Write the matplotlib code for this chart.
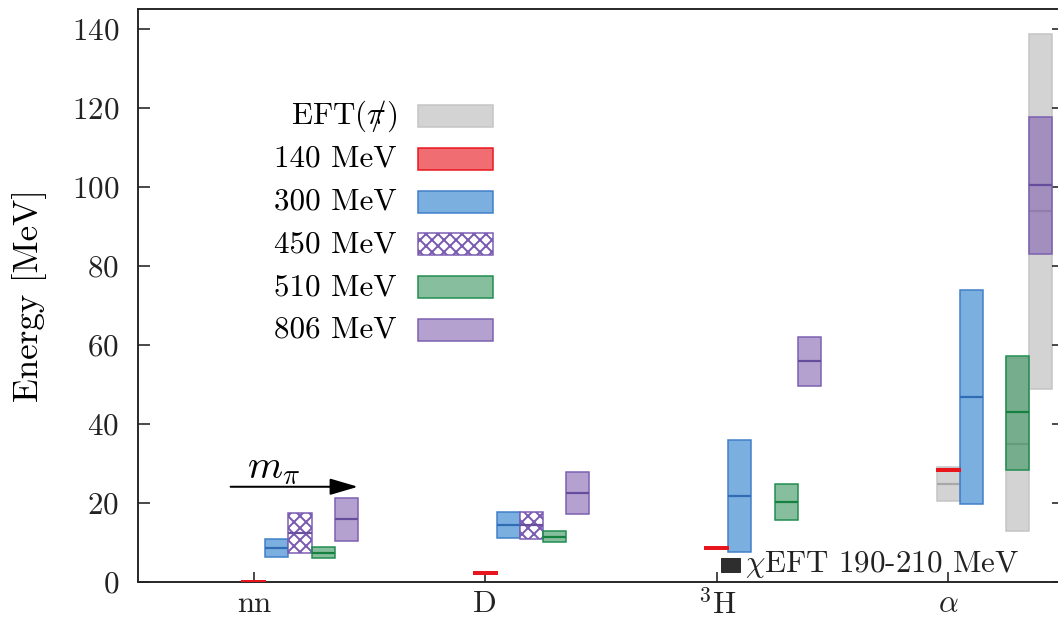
import numpy as np
import matplotlib.pyplot as plt
from matplotlib.patches import Rectangle

# dpi 72: one point = one pixel
plt.rcParams['font.family'] = 'serif'
plt.rcParams['font.serif'] = ['cmr10']
plt.rcParams['mathtext.fontset'] = 'cm'
plt.rcParams['axes.formatter.use_mathtext'] = True
plt.rcParams['hatch.linewidth'] = 2.0

# nuclei on the x axis
nuclei = ['nn', 'D', r'$^3$H', r'$\alpha$']

# binding energies [MeV], nan = no result
e140 = [0.0, 2.22, 8.48, 28.3]

e300 = [8.5, 14.4, 21.7, 46.9]
lo300 = [6.2, 11.2, 7.5, 19.7]
hi300 = [10.8, 17.6, 35.9, 73.8]

e450 = [12.5, 14.4, np.nan, np.nan]
lo450 = [7.4, 11.0, np.nan, np.nan]
hi450 = [17.5, 17.6, np.nan, np.nan]

e510 = [7.4, 11.4, 20.3, 42.9]
lo510 = [6.0, 10.0, 15.7, 28.4]
hi510 = [8.9, 12.8, 24.7, 57.2]

e806 = [15.9, 22.5, 55.8, 100.5]
lo806 = [10.5, 17.3, 49.5, 83.1]
hi806 = [21.3, 27.8, 61.9, 117.7]

# pionless EFT predictions for alpha at 140, 510, 806 MeV
eft_mpi = [140, 510, 806]
eft_alpha = [24.7, 34.8, 93.8]
eft_lo = [20.5, 12.8, 48.9]
eft_hi = [29.1, 56.8, 138.8]

# chiral EFT box for 3H
chi_lo, chi_hi = 2.6, 6.0

legend_labels = [r'EFT($\pi\!\!\!/$)', '140 MeV', '300 MeV', '450 MeV', '510 MeV', '806 MeV']

# styling
offset = {140: 0.0, 300: 0.1, 450: 0.2, 510: 0.3, 806: 0.4}
w = 0.1
red = '#e8151d'
grey = ('#d3d3d3', '#c4c4c4', '#a8a8a8')
blue = ((0.13, 0.48, 0.80, 0.6), '#3f7fc8', '#2f6cb3')
hatched = ('white', '#7a5cb3', '#6a4f9e')
green = ((0.22, 0.58, 0.37, 0.6), '#1f8c4e', '#16803f')
purple = ((0.51, 0.39, 0.69, 0.6), '#7a5fb0', '#664c9c')

FS = 31


def box(ax, x, lo, hi, mid, style, hatch=None, z=2):
    face, edge, line = style
    if np.isnan(mid):
        return
    ax.add_patch(Rectangle((x - w / 2, lo), w, hi - lo, facecolor=face,
                           edgecolor=edge, lw=1.5, hatch=hatch, zorder=z))
    ax.hlines(mid, x - w / 2, x + w / 2, colors=line, lw=2.2, zorder=z + 0.1)


fig = plt.figure(figsize=(1058 / 72, 621 / 72), dpi=72)
ax = fig.add_axes([138 / 1058, 39 / 621, 926 / 1058, 573 / 621])

xs = np.arange(1, len(nuclei) + 1)

# pionless EFT boxes for alpha (drawn underneath)
for m, c, l, h in zip(eft_mpi, eft_alpha, eft_lo, eft_hi):
    box(ax, xs[3] + offset[m], l, h, c, grey, z=1)

for i, x in enumerate(xs):
    box(ax, x + offset[300], lo300[i], hi300[i], e300[i], blue)
    box(ax, x + offset[450], lo450[i], hi450[i], e450[i], hatched, hatch='xx')
    box(ax, x + offset[510], lo510[i], hi510[i], e510[i], green)
    box(ax, x + offset[806], lo806[i], hi806[i], e806[i], purple)

# physical point as thick red bars
ax.hlines(e140, xs - w / 2 - 0.005, xs + w / 2 + 0.005, colors=red, lw=4, zorder=3)

# chiral EFT
ax.add_patch(Rectangle((xs[2] + 0.017, chi_lo), 0.082, chi_hi - chi_lo,
                       facecolor='#2e2e2e', edgecolor='#2e2e2e', zorder=3))
ax.text(xs[2] + 0.12, 2.5, r'$\chi$EFT 190-210 MeV', fontsize=31,
        ha='left', va='baseline', color='#222222', zorder=4)

# m_pi arrow
ax.annotate('', xy=(1.45, 24.1), xytext=(0.9, 24.1),
            arrowprops=dict(arrowstyle='-|>,head_length=0.85,head_width=0.25',
                            mutation_scale=28, color='black', lw=2,
                            shrinkA=0, shrinkB=0))
ax.text(1.087, 26.3, r'$m_\pi$', fontsize=40, ha='center', va='baseline')

# legend drawn by hand: labels on the left, patches on the right
leg_styles = [grey, ((0.91, 0.08, 0.11, 0.62), red, red), blue, hatched, green, purple]
leg_hatch = [None, None, None, 'xx', None, None]
y0 = 0.8133
dy = 0.0747
for k, lab in enumerate(legend_labels):
    yy = y0 - k * dy
    ax.text(0.2797, yy, lab, transform=ax.transAxes, fontsize=FS,
            ha='right', va='center')
    face, edge, _ = leg_styles[k]
    ax.add_patch(Rectangle((0.3024, yy - 0.0192), 0.081, 0.0384,
                           transform=ax.transAxes, facecolor=face,
                           edgecolor=edge, lw=1.5, hatch=leg_hatch[k]))

ax.set_xlim(0.5, 4.5)
ax.set_ylim(0, 145)
ax.set_xticks(xs)
ax.set_xticklabels(nuclei)
ax.set_yticks(np.arange(0, 141, 20))
ax.tick_params(direction='in', length=12, width=1.6, labelsize=FS,
               right=True, top=False, pad=19, colors='#222222')
ax.tick_params(axis='x', length=10, pad=8)
for s in ax.spines.values():
    s.set_linewidth(1.9)
    s.set_color('#222222')
ax.set_ylabel('Energy [MeV]', fontsize=35, labelpad=25)

fig.savefig('out.png', dpi=72)
